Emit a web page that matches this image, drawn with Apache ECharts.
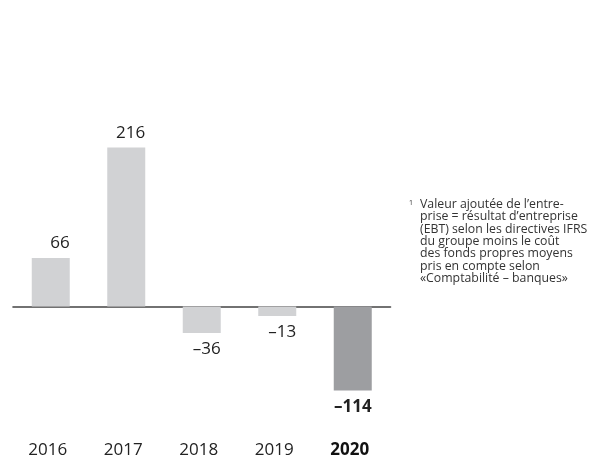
<!DOCTYPE html>
<html>
<head>
<meta charset="utf-8">
<script src="https://cdn.jsdelivr.net/npm/echarts@6/dist/echarts.min.js"></script>
<style>
  html, body { margin: 0; padding: 0; background: #fff; }
  #main { width: 591px; height: 459px; }
</style>
</head>
<body>
<div id="main"></div>
<script>
var years = ['2016', '2017', '2018', '2019', '2020'];
var values = [66, 216, -36, -13, -114];
var footnoteLines = [
    'Valeur ajoutée de l’entre-',
    'prise = résultat d’entreprise',
    '(EBT) selon les directives IFRS',
    'du groupe moins le coût',
    'des fonds propres moyens',
    'pris en compte selon',
    '«Comptabilité – banques»'
];

var chartDom = document.getElementById('main');
var myChart = echarts.init(chartDom);
var font = '"Open Sans", "Noto Sans", sans-serif';

var barData = values.map(function (v, i) {
    var last = i === values.length - 1;
    return {
        value: v,
        itemStyle: { color: last ? '#9d9ea1' : '#d1d2d4' },
        label: {
            position: v >= 0 ? 'top' : 'bottom',
            distance: v >= 0 ? 6 : 8,
            fontWeight: last ? 'bold' : 'normal'
        }
    };
});

var option = {
    animation: false,
    grid: {
        left: 13, right: 200.5, top: 85.7, bottom: 42.1,
        containLabel: false,
        outerBoundsMode: 'none'
    },
    xAxis: [{
        type: 'category',
        data: years,
        axisLine: { onZero: true, lineStyle: { color: '#444', width: 1.6 } },
        axisTick: { show: false },
        axisLabel: { show: false }
    }, {
        // year labels sit at the bottom, not on the zero line
        type: 'category',
        data: years,
        position: 'bottom',
        axisLine: { show: false, onZero: false },
        axisTick: { show: false },
        axisLabel: {
            interval: 0,
            margin: 25,
            padding: [0, 6, 0, 0],
            fontFamily: font,
            fontSize: 17,
            color: '#222',
            formatter: function (v) {
                return v === '2020' ? '{b|' + v + '}' : v;
            },
            rich: {
                b: { fontFamily: font, fontSize: 17, fontWeight: 'bold', color: '#111' }
            }
        }
    }],
    yAxis: {
        type: 'value',
        min: -150,
        max: 300,
        show: false,
        splitLine: { show: false }
    },
    series: [{
        type: 'bar',
        data: barData,
        barWidth: 38,
        label: {
            show: true,
            fontFamily: font,
            fontSize: 17,
            color: '#222',
            align: 'right',
            offset: [19, 0],
            formatter: function (p) {
                return String(p.value).replace('-', '–');
            }
        }
    }],
    graphic: [{
        type: 'text',
        left: 409,
        top: 199,
        style: { text: '1', font: '7px ' + font, fill: '#333' }
    }, {
        type: 'text',
        left: 420,
        top: 198,
        style: {
            text: footnoteLines.join('\n'),
            font: '12.3px ' + font,
            lineHeight: 12.4,
            fill: '#333'
        }
    }]
};

option && myChart.setOption(option);
</script>
</body>
</html>
